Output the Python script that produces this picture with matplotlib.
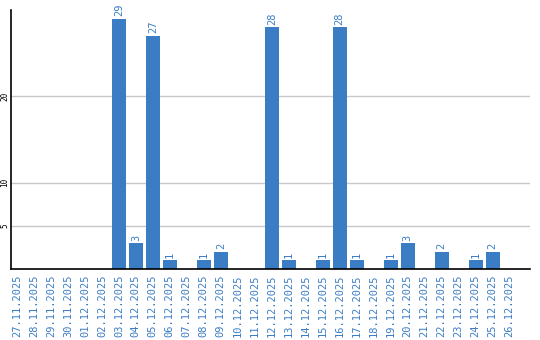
import matplotlib.pyplot as plt

dates = ["27.11.2025", "28.11.2025", "29.11.2025", "30.11.2025", "01.12.2025",
         "02.12.2025", "03.12.2025", "04.12.2025", "05.12.2025", "06.12.2025",
         "07.12.2025", "08.12.2025", "09.12.2025", "10.12.2025", "11.12.2025",
         "12.12.2025", "13.12.2025", "14.12.2025", "15.12.2025", "16.12.2025",
         "17.12.2025", "18.12.2025", "19.12.2025", "20.12.2025", "21.12.2025",
         "22.12.2025", "23.12.2025", "24.12.2025", "25.12.2025", "26.12.2025"]
counts = [0, 0, 0, 0, 0, 0, 29, 3, 27, 1, 0, 1, 2, 0, 0,
          28, 1, 0, 1, 28, 1, 0, 1, 3, 0, 2, 0, 1, 2, 0]
y_ticks = [5, 10, 20]

blue = "#3b7dc4"

fig = plt.figure(figsize=(5.4, 3.4), dpi=100)
ax = fig.add_axes([11 / 540, 1 - 269 / 340, 519 / 540, 259 / 340])

x = list(range(len(dates)))
ax.bar(x, counts, width=0.82, color=blue, zorder=2)

# value labels above the non-zero bars
for xi, c in zip(x, counts):
    if c > 0:
        ax.text(xi, c + 0.3, str(c), rotation=90, ha="center", va="bottom",
                color=blue, fontsize=7.5, family="DejaVu Sans Mono")

ax.set_xlim(-0.35, 30.2)
ax.set_ylim(0, 30)
ax.set_yticks(y_ticks)
ax.set_yticklabels([str(t) for t in y_ticks], rotation=90, va="center",
                   fontsize=5.5, family="DejaVu Sans Mono")
ax.grid(axis="y", color="#c8c8c8", linewidth=1, zorder=0)

ax.set_xticks(x)
ax.set_xticklabels(dates, rotation=90, color=blue, fontsize=7.5,
                   family="DejaVu Sans Mono")
ax.tick_params(axis="x", length=0, pad=4)
ax.tick_params(axis="y", length=0, pad=1)

ax.spines["top"].set_visible(False)
ax.spines["right"].set_visible(False)
ax.spines["left"].set_linewidth(1.2)
ax.spines["bottom"].set_linewidth(1.2)

fig.savefig("out.png", dpi=100)
